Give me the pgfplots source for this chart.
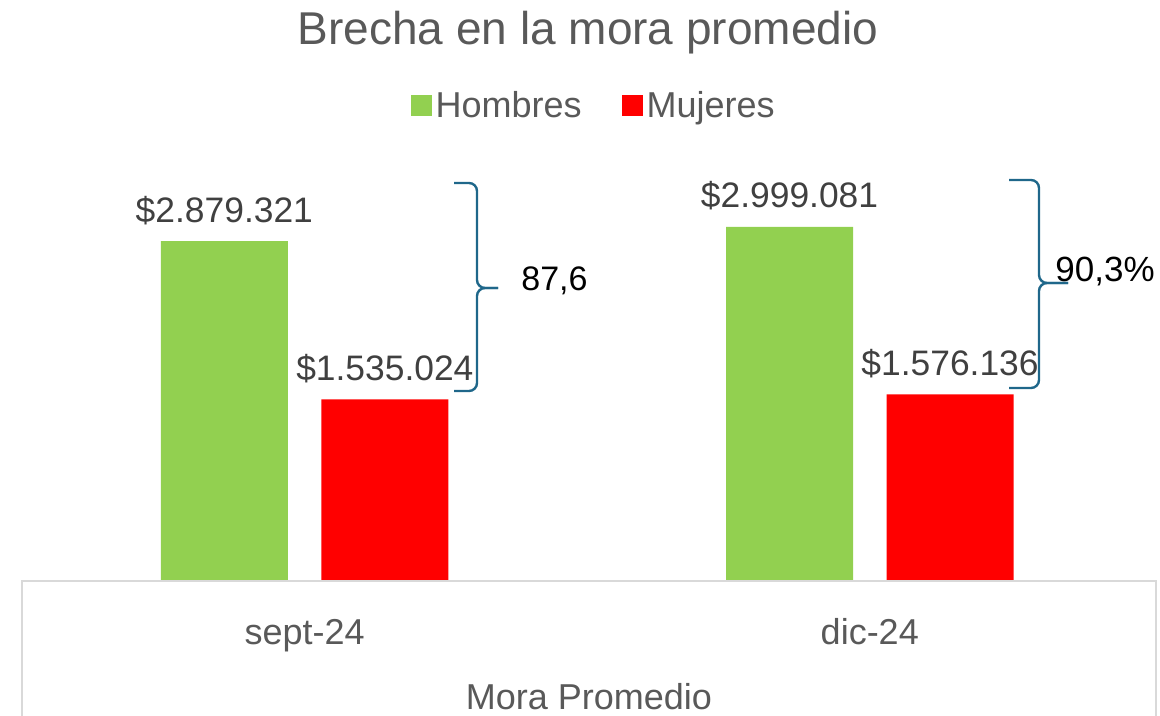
\documentclass[border=0pt]{standalone}
\usepackage{fontspec}
\setmainfont{Liberation Sans}
\usepackage{pgfplots}
\pgfplotsset{compat=1.18}
\definecolor{hgreen}{RGB}{146,208,80}
\definecolor{mred}{RGB}{255,0,0}
\definecolor{txt}{RGB}{89,89,89}
\definecolor{lbl}{RGB}{64,64,64}
\definecolor{brc}{RGB}{31,103,138}
\definecolor{boxline}{RGB}{217,217,217}

\begin{document}
\begin{tikzpicture}
\path[use as bounding box] (0,0) rectangle (580pt,358pt);
% box under the bars (category table)
\begin{scope}[x=0.5pt,y=-0.5pt,shift={(0pt,358pt)}]
\draw[boxline, line width=0.75pt] (22,720) -- (22,581) -- (1156,581) -- (1156,720);
\end{scope}
\begin{axis}[
  at={(11pt,68pt)}, anchor=south west,
  scale only axis, width=568pt, height=206pt,
  xmin=-0.5, xmax=1.51, ymin=0, ymax=3500000,
  axis y line=none, axis x line*=bottom,
  axis line style={draw=none},
  xtick={0,1}, xticklabels={sept-24,dic-24},
  major tick length=0pt,
  xticklabel style={font=\fontsize{18}{20}\selectfont, text=txt, anchor=base, yshift=-32.5pt},
  ybar, bar width=0.2247,
  point meta=explicit symbolic,
  nodes near coords,
  nodes near coords style={font=\fontsize{17.7}{20}\selectfont, text=lbl, anchor=base, yshift=9.5pt},
  legend columns=2,
  legend style={at={(axis description cs:0.504,1.1505)}, anchor=center,
    draw=none, fill=none, font=\fontsize{18}{20}\selectfont, text=txt,
    /tikz/every even column/.append style={column sep=18pt}},
  legend image code/.code={\fill[#1] (-1pt,-5pt) rectangle (9.5pt,5.5pt);},
]
\addplot[fill=hgreen, draw=none, bar shift=-0.142] coordinates {
  (0,2879321) [\$2.879.321]
  (1,2999081) [\$2.999.081]
};
\addlegendentry{Hombres}
\addplot[fill=mred, draw=none, bar shift=0.142] coordinates {
  (0,1535024) [\$1.535.024]
  (1,1576136) [\$1.576.136]
};
\addlegendentry{Mujeres}
\end{axis}
% title, braces, labels in pixel units of the reference
\begin{scope}[x=0.5pt,y=-0.5pt,shift={(0pt,358pt)}]
\node[font=\fontsize{23}{26}\selectfont, text=txt, anchor=base] at (588,45) {Brecha en la mora promedio};
\draw[brc, line width=1.2pt, rounded corners=4pt] (454,183) -- (477,183) -- (477,288) -- (498,288);
\draw[brc, line width=1.2pt, rounded corners=4pt] (498,288) -- (477,288) -- (477,391) -- (454,391);
\draw[brc, line width=1.2pt, rounded corners=4pt] (1009,180) -- (1039,180) -- (1039,283) -- (1068,283);
\draw[brc, line width=1.2pt, rounded corners=4pt] (1068,283) -- (1039,283) -- (1039,388) -- (1009,388);
\node[anchor=west, inner sep=0pt, font=\fontsize{17}{20}\selectfont] at (521,281) {87,6};
\node[anchor=west, inner sep=0pt, font=\fontsize{17.5}{20}\selectfont] at (1055,272) {90,3\%};
\node[anchor=base, font=\fontsize{18}{20}\selectfont, text=txt] at (589,710) {Mora Promedio};
\end{scope}
\end{tikzpicture}
\end{document}
